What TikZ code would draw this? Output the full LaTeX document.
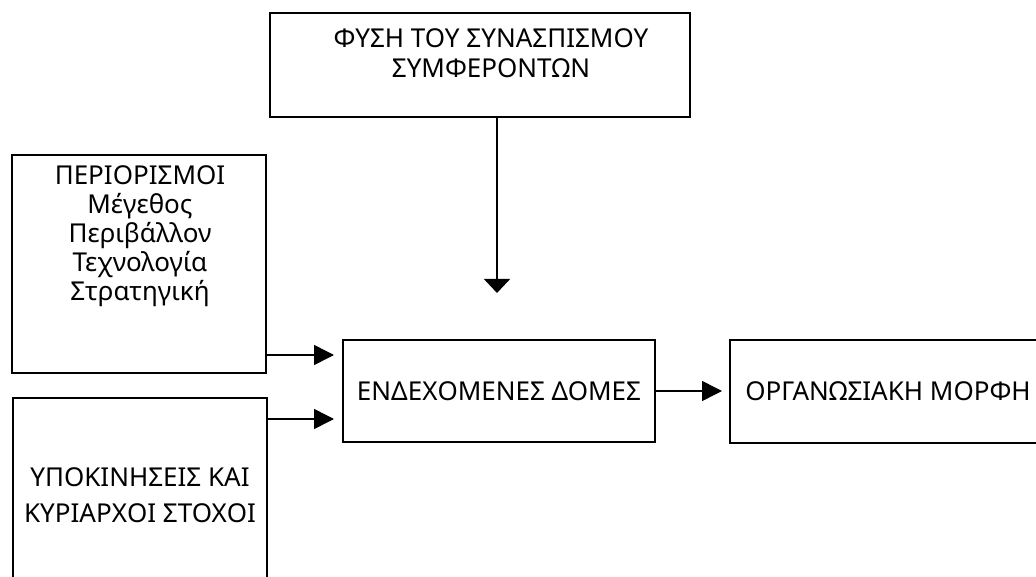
\documentclass[tikz,border=0pt]{standalone}
\usepackage{fontspec}
\setmainfont{Noto Sans}
\usetikzlibrary{arrows.meta}

\begin{document}
\begin{tikzpicture}[x=1pt,y=-1pt,-,>={Triangle[length=20pt,width=20pt]},
                    line width=1.5pt,font=\fontsize{26}{29}\selectfont]
    \tikzset{box/.style={draw,line width=2pt,inner sep=0pt},
             txt/.style={align=center,inner sep=0pt}}
    \fill[white] (0,0) rectangle (1036,577);
    \useasboundingbox (0,0) rectangle (1036,577);
    \clip (0,0) rectangle (1036,577);
    \node[box,minimum width=420pt,minimum height=104pt] (fysi) at (480,65) {};
    \node[txt] (fysilbl) at (491,53) {ΦΥΣΗ ΤΟΥ ΣΥΝΑΣΠΙΣΜΟΥ\\[1pt]ΣΥΜΦΕΡΟΝΤΩΝ};
    \node[box,minimum width=254pt,minimum height=218pt] (perio) at (139,264) {};
    \node[txt] (periolbl) at (140,236)
        {ΠΕΡΙΟΡΙΣΜΟΙ\\Μέγεθος\\Περιβάλλον\\Τεχνολογία\\Στρατηγική};
    \node[box,minimum width=254pt,minimum height=194pt] (ypok) at (140,495) {};
    \node[txt] (ypoklbl) at (140,495) {ΥΠΟΚΙΝΗΣΕΙΣ ΚΑΙ\\[7pt]ΚΥΡΙΑΡΧΟΙ ΣΤΟΧΟΙ};
    \node[box,minimum width=312pt,minimum height=102pt] (endex) at (499,391)
        {ΕΝΔΕΧΟΜΕΝΕΣ ΔΟΜΕΣ};
    \node[box,minimum width=316pt,minimum height=103pt] (morfi) at (888,391)
        {ΟΡΓΑΝΩΣΙΑΚΗ ΜΟΡΦΗ};
    \coordinate (down) at (497,293);
    \coordinate (in1) at (334,355);
    \coordinate (in2) at (334,419);
    \draw[->,>={Triangle[length=14pt,width=26pt]}] (fysi.south -| down) -- (down);
    \draw[->] (in1 -| perio.east) -- (in1);
    \draw[->] (in2 -| ypok.east) -- (in2);
    \draw[->,shorten >=7pt] (endex) -- (morfi);
\end{tikzpicture}
\end{document}
